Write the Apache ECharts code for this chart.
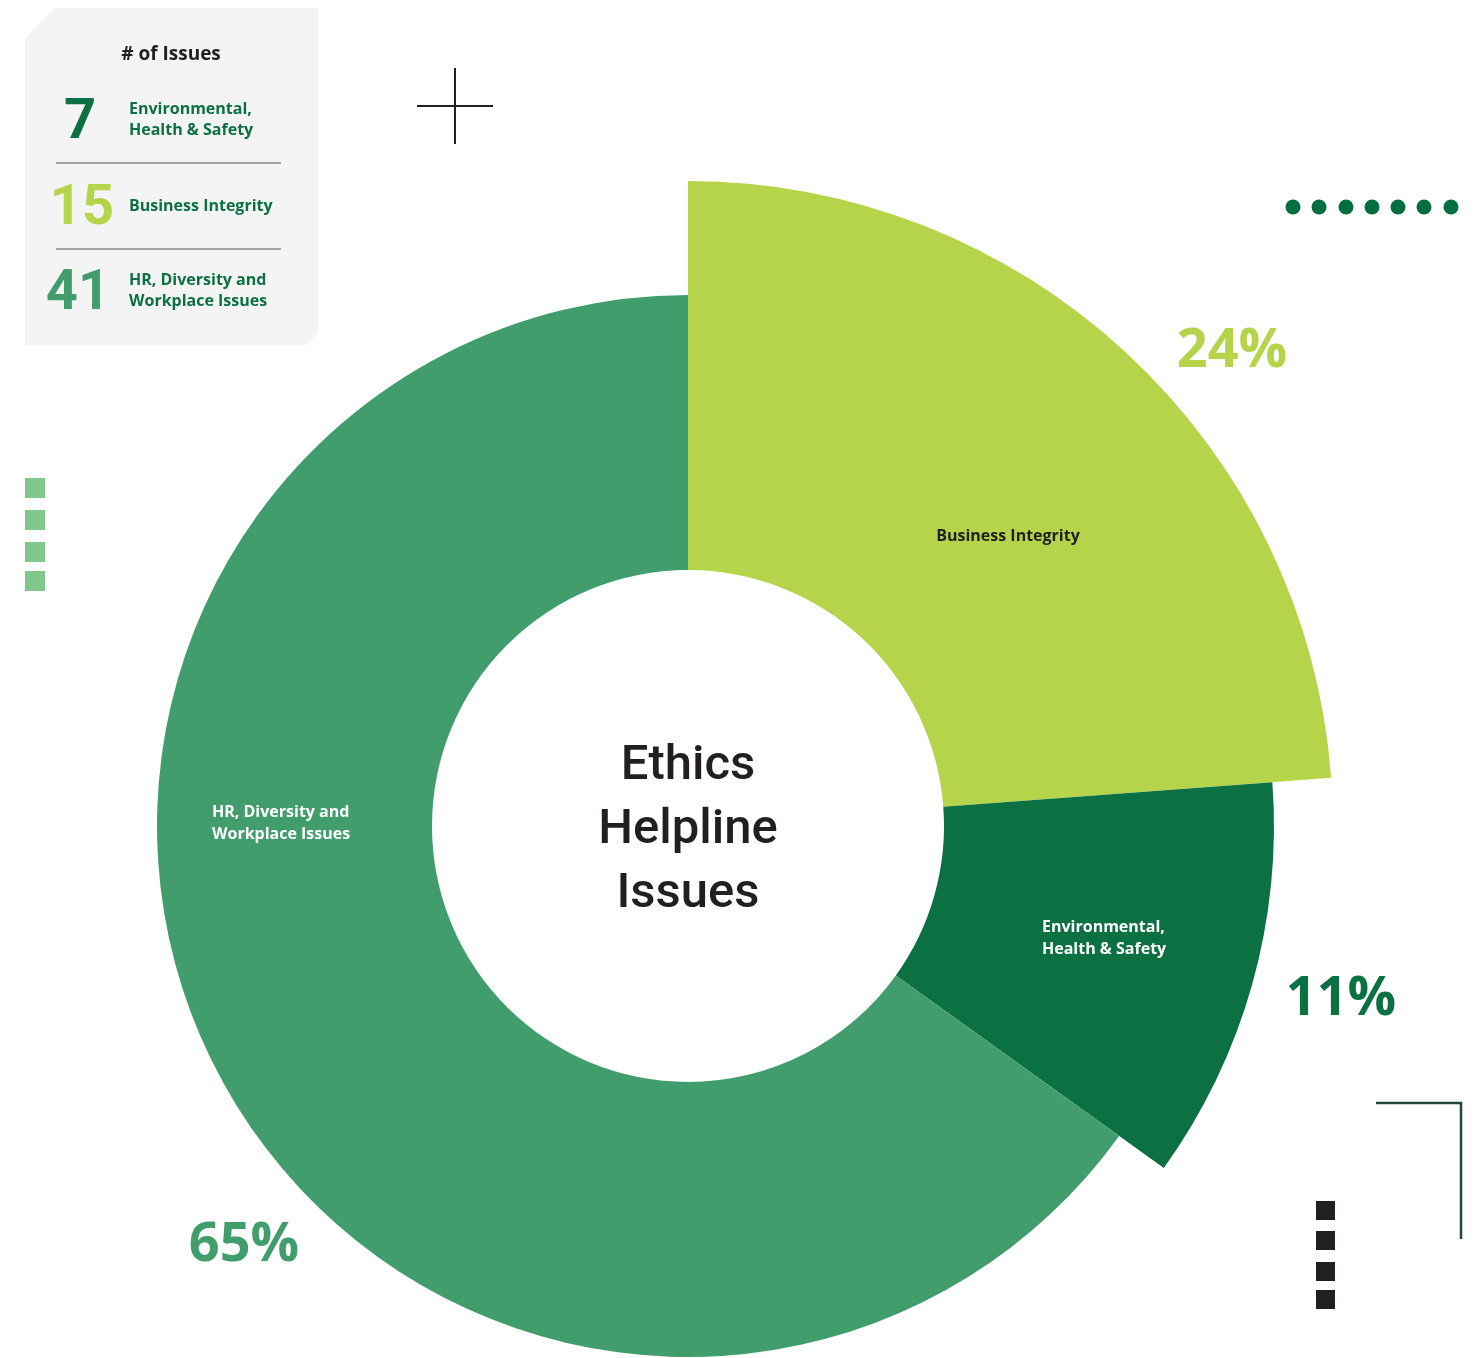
<!DOCTYPE html>
<html>
<head>
<meta charset="utf-8">
<script src="https://cdn.jsdelivr.net/npm/echarts@6/dist/echarts.min.js"></script>
<style>
  html, body { margin: 0; padding: 0; background: #fff; }
  #chart { width: 1480px; height: 1358px; }
</style>
</head>
<body>
<div id="chart"></div>
<script>
// data (clockwise from 12 o'clock)
var categories = ['Business Integrity', 'Environmental,\nHealth & Safety', 'HR, Diversity and\nWorkplace Issues'];
var issueCounts = [15, 7, 41];
var percentLabels = ['24%', '11%', '65%'];
var sliceColors = ['#b5d44a', '#0b7142', '#419e6c'];
var outerRadius = [645, 586, 531];
// legend panel order
var legendOrder = [1, 0, 2];

var FONT = 'Roboto, "Noto Sans", sans-serif';
var FONT_W = '"Open Sans", Roboto, sans-serif';
var cx = 688, cy = 826, innerR = 256;

var chart = echarts.init(document.getElementById('chart'));

// one pie per slice so each slice gets its own outer radius
var series = categories.map(function (name, i) {
    return {
        type: 'pie',
        center: [cx, cy],
        radius: [innerR, outerRadius[i]],
        startAngle: 90,
        clockwise: true,
        silent: true,
        animation: false,
        label: { show: false },
        labelLine: { show: false },
        data: issueCounts.map(function (v, j) {
            return {
                name: categories[j],
                value: v,
                itemStyle: { color: j === i ? sliceColors[j] : 'rgba(0,0,0,0)', borderWidth: 0 }
            };
        })
    };
});

var graphics = [];
// legend panel
graphics.push({
    type: 'polygon',
    shape: { points: [[25, 38], [55, 8], [318, 8], [318, 333], [306, 345], [25, 345]] },
    style: { fill: '#f4f4f4' }
});
graphics.push({
    type: 'text', x: 171, y: 55,
    style: { text: '# of Issues', font: 'bold 19px ' + FONT_W, fill: '#231f20', textAlign: 'center', textVerticalAlign: 'middle' }
});
var rowY = [120, 206, 291];
var numX = [80, 82, 78];
legendOrder.forEach(function (idx, r) {
    graphics.push({
        type: 'text', x: numX[r], y: rowY[r] + 4,
        style: { text: String(issueCounts[idx]), font: 'bold 56px ' + FONT, fill: sliceColors[idx], textAlign: 'center', textVerticalAlign: 'middle' }
    });
    graphics.push({
        type: 'text', x: 129, y: rowY[r],
        style: { text: categories[idx], font: 'bold 16px ' + FONT_W, lineHeight: 21, fill: '#0b7142', textAlign: 'left', textVerticalAlign: 'middle' }
    });
    if (r < 2) {
        graphics.push({
            type: 'line', shape: { x1: 56, y1: rowY[r] + 43, x2: 281, y2: rowY[r] + 43 },
            style: { stroke: '#888', lineWidth: 1.5 }
        });
    }
});

// center title
graphics.push({
    type: 'text', x: cx, y: cy + 5,
    style: { text: 'Ethics\nHelpline\nIssues', font: '500 49px ' + FONT, lineHeight: 64, fill: '#231f20', textAlign: 'center', textVerticalAlign: 'middle' }
});

// slice labels (drawn above the pies)
var sliceLabelPos = [[1008, 536, 'center', '#231f20'], [1042, 938, 'left', '#fff'], [212, 823, 'left', '#fff']];
categories.forEach(function (name, i) {
    var p = sliceLabelPos[i];
    graphics.push({
        type: 'text', x: p[0], y: p[1], z: 100,
        style: { text: name, font: 'bold 16px ' + FONT_W, lineHeight: 22, fill: p[3], textAlign: p[2], textVerticalAlign: 'middle' }
    });
});

// percentages
var pctPos = [[1232, 352], [1341, 1000], [244, 1246]];
percentLabels.forEach(function (t, i) {
    graphics.push({
        type: 'text', x: pctPos[i][0], y: pctPos[i][1], z: 100,
        style: { text: t, font: 'bold 54px ' + FONT_W, fill: sliceColors[i], textAlign: 'center', textVerticalAlign: 'middle' }
    });
});

// decorations
graphics.push({ type: 'line', shape: { x1: 417, y1: 106, x2: 493, y2: 106 }, style: { stroke: '#231f20', lineWidth: 2 } });
graphics.push({ type: 'line', shape: { x1: 455, y1: 68, x2: 455, y2: 144 }, style: { stroke: '#231f20', lineWidth: 2 } });
[1293, 1319, 1346, 1372, 1398, 1424, 1451].forEach(function (x) {
    graphics.push({ type: 'circle', shape: { cx: x, cy: 207, r: 7.5 }, style: { fill: '#006e41' } });
});
[478, 510, 542, 571].forEach(function (y) {
    graphics.push({ type: 'rect', shape: { x: 25, y: y, width: 20, height: 20 }, style: { fill: '#7fc78a' } });
});
[1201, 1231, 1262, 1290].forEach(function (y) {
    graphics.push({ type: 'rect', shape: { x: 1316, y: y, width: 19, height: 19 }, style: { fill: '#231f20' } });
});
graphics.push({
    type: 'polyline', shape: { points: [[1376, 1103], [1461, 1103], [1461, 1239]] },
    style: { stroke: '#1d4a3d', lineWidth: 2.5, fill: null }
});

chart.setOption({
    animation: false,
    backgroundColor: '#fff',
    series: series,
    graphic: { elements: graphics }
});
</script>
</body>
</html>
